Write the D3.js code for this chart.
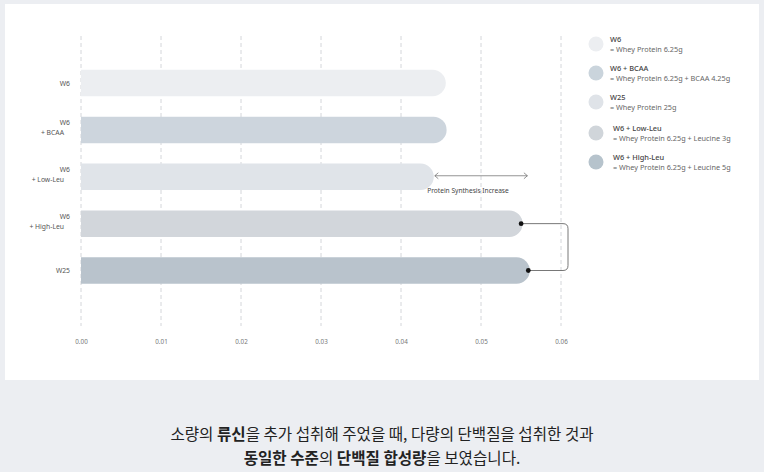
<!DOCTYPE html>
<html>
<head>
<meta charset="utf-8">
<script src="https://cdn.jsdelivr.net/npm/d3@7"></script>
<style>
  html, body { margin: 0; padding: 0; background: #eceef2; }
  svg { display: block; }
</style>
</head>
<body>
<script>
// data
var groups = ["W6", "W6 + BCAA", "W6 + Low-Leu", "W6 + High-Leu", "W25"]
var groupLines = [["W6"], ["W6", "+ BCAA"], ["W6", "+ Low-Leu"], ["W6", "+ High-Leu"], ["W25"]]
var values = [0.0456, 0.0457, 0.0441, 0.0552, 0.0561]
var barColors = ["#eceef1", "#cdd5dd", "#e0e4e9", "#d2d6db", "#b9c3cc"]
var ticks = [0, 0.01, 0.02, 0.03, 0.04, 0.05, 0.06]

var legendTitles = ["W6", "W6 + BCAA", "W25", "W6 + Low-Leu", "W6 + High-Leu"]
var legendSubs = ["= Whey Protein 6.25g", "= Whey Protein 6.25g + BCAA 4.25g", "= Whey Protein 25g",
  "= Whey Protein 6.25g + Leucine 3g", "= Whey Protein 6.25g + Leucine 5g"]
var legendColors = ["#eceef1", "#cad4dc", "#dfe3e8", "#d0d5da", "#b6c3cc"]

var W = 764, H = 472
var font = "'Noto Sans', 'Noto Sans CJK KR', sans-serif"

var svg = d3.select("body").append("svg")
  .attr("width", W)
  .attr("height", H)

svg.append("rect").attr("width", W).attr("height", H).attr("fill", "#eceef2")
svg.append("rect").attr("x", 5).attr("y", 4).attr("width", 754).attr("height", 376).attr("fill", "#fff")

var x = d3.scaleLinear().domain([0, 0.06]).range([81, 561])
var y = d3.scalePoint().domain(groups).range([83, 270.5])
var barH = 26.5

// grid
svg.append("g").selectAll("line")
  .data(ticks)
  .join("line")
  .attr("x1", d => x(d)).attr("x2", d => x(d))
  .attr("y1", 36).attr("y2", 326)
  .attr("stroke", "#c9ccd1")
  .attr("stroke-width", 0.8)
  .attr("stroke-dasharray", "4,3")

// axis labels
var axis = d3.axisBottom(x).tickValues(ticks).tickFormat(d3.format(".2f")).tickSize(0)
var ax = svg.append("g").attr("transform", "translate(0,337)").call(axis)
ax.select(".domain").remove()
ax.selectAll("text").attr("font-family", font).attr("font-size", 6.3).attr("fill", "#777")

// bars, flat left, rounded right
function barPath(v, yc) {
  var x0 = x(0), x1 = x(v), r = barH / 2
  var y0 = yc - r
  return "M" + x0 + "," + y0 + "H" + (x1 - r) + "A" + r + "," + r + " 0 0 1 " + (x1 - r) + "," + (y0 + barH) + "H" + x0 + "Z"
}
svg.append("g").selectAll("path")
  .data(groups)
  .join("path")
  .attr("d", (d, i) => barPath(values[i], y(d)))
  .attr("fill", (d, i) => barColors[i])

// y labels
var yl = svg.append("g").selectAll("text")
  .data(groups)
  .join("text")
  .attr("font-family", font)
  .attr("font-size", 6.8)
  .attr("fill", "#555")
  .attr("text-anchor", "end")
yl.each(function(d, i) {
  var lines = groupLines[i]
  var t = d3.select(this)
  lines.forEach(function(l, j) {
    t.append("tspan")
      .attr("x", j == 0 ? 70 : 64)
      .attr("y", y(d) + (lines.length == 1 ? 2.5 : (j == 0 ? -4.5 : 5.5)))
      .text(l)
  })
})

// arrow for Protein Synthesis Increase
var ya = y("W6 + Low-Leu") - 1
var ax0 = x(values[2]) + 1, ax1 = x(0.0558)
svg.append("line")
  .attr("x1", ax0).attr("x2", ax1).attr("y1", ya).attr("y2", ya)
  .attr("stroke", "#666").attr("stroke-width", 0.7)
svg.append("path")
  .attr("d", "M" + (ax0 + 3.5) + "," + (ya - 3) + "L" + ax0 + "," + ya + "L" + (ax0 + 3.5) + "," + (ya + 3)
    + "M" + (ax1 - 3.5) + "," + (ya - 3) + "L" + ax1 + "," + ya + "L" + (ax1 - 3.5) + "," + (ya + 3))
  .attr("fill", "none").attr("stroke", "#666").attr("stroke-width", 0.7)
svg.append("text")
  .attr("x", 468).attr("y", ya + 17.5)
  .attr("text-anchor", "middle")
  .attr("font-family", font).attr("font-size", 6.6)
  .attr("fill", "#444")
  .text("Protein Synthesis Increase")

// bracket between High-Leu and W25
var ya1 = y("W6 + High-Leu"), ya2 = y("W25")
var bx1 = x(values[3]) - 1.5, bx2 = x(values[4]) - 1.5, bxr = 568, rr = 5
svg.append("path")
  .attr("d", "M" + bx1 + "," + ya1 + "H" + (bxr - rr) + "Q" + bxr + "," + ya1 + " " + bxr + "," + (ya1 + rr)
    + "V" + (ya2 - rr) + "Q" + bxr + "," + ya2 + " " + (bxr - rr) + "," + ya2 + "H" + bx2)
  .attr("fill", "none").attr("stroke", "#555").attr("stroke-width", 0.8)
svg.selectAll(".dot")
  .data([[bx1, ya1], [bx2, ya2]])
  .join("circle")
  .attr("cx", d => d[0]).attr("cy", d => d[1]).attr("r", 2.4)
  .attr("fill", "#111")

// legend
var lg = svg.append("g").selectAll("g")
  .data(legendTitles)
  .join("g")
  .attr("transform", (d, i) => "translate(596," + [44, 73, 102, 133, 162][i] + ")")
lg.append("circle").attr("r", 7.5).attr("fill", (d, i) => legendColors[i])
lg.append("text")
  .attr("x", (d, i) => i < 3 ? 14 : 17).attr("y", -2)
  .attr("font-family", font).attr("font-size", 7.4).attr("font-weight", 500)
  .attr("fill", "#444")
  .text(d => d)
lg.append("text")
  .attr("x", (d, i) => i < 3 ? 14 : 17).attr("y", 7.5)
  .attr("font-family", font).attr("font-size", 7.3)
  .attr("fill", "#666")
  .text((d, i) => legendSubs[i])

// caption
var caption = [
  [["소량의 ", 400], ["류신", 700], ["을 추가 섭취해 주었을 때, 다량의 단백질을 섭취한 것과", 400]],
  [["동일한 수준", 700], ["의 ", 400], ["단백질 합성량", 700], ["을 보였습니다.", 400]]
]
caption.forEach(function(line, i) {
  var t = svg.append("text")
    .attr("x", 382).attr("y", 440 + i * 24)
    .attr("text-anchor", "middle")
    .attr("font-family", "'Noto Sans CJK KR', sans-serif")
    .attr("font-size", 15.6)
    .attr("fill", "#222")
  line.forEach(function(p) {
    t.append("tspan").attr("font-weight", p[1]).text(p[0])
  })
})
</script>
</body>
</html>
